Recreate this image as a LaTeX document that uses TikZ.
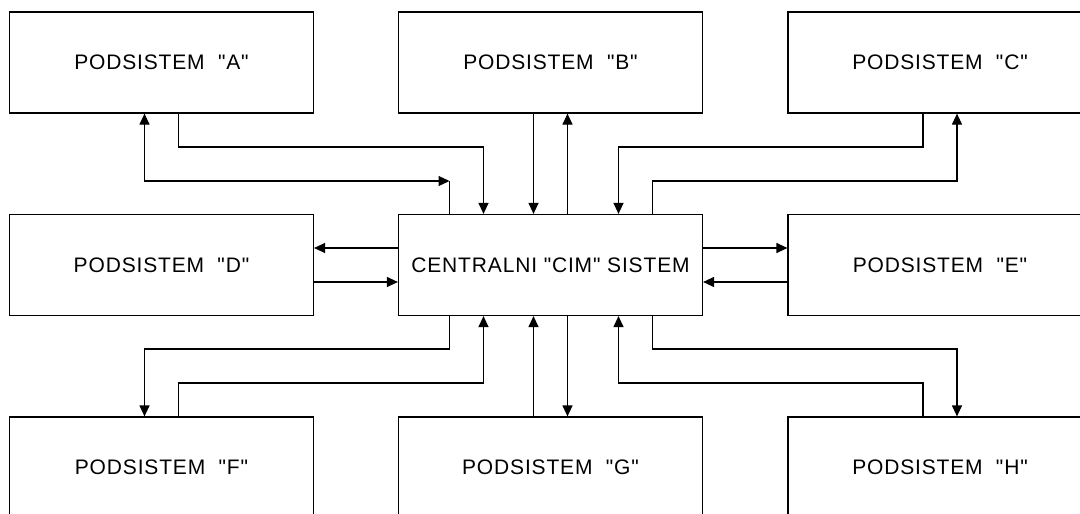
\documentclass[tikz,border=0pt]{standalone}
\usepackage{fontspec}
% plain family: straight quotation marks, slight tracking
\newfontfamily\labelfont{Liberation Sans}[LetterSpace=4]
\usetikzlibrary{arrows.meta}
\begin{document}
\begin{tikzpicture}[x=1pt,y=-1pt,
  box/.style={draw,line width=1.2pt,minimum width=304pt,minimum height=101pt,
    inner sep=0pt,font=\labelfont\fontsize{21pt}{24pt}\selectfont},
  link/.style={line width=1.2pt},
  tip/.tip={Triangle[length=11pt,width=10pt]},
  arr/.style={link,-tip},
  twoway/.style={link,tip-tip}]
\useasboundingbox (0,0) rectangle (1080,514);
\clip (0,0) rectangle (1080,514);
% subsystems around the central system
\node[box] (A) at (161.5,62.5) {PODSISTEM\ \ "A"};
\node[box] (B) at (550.5,62.5) {PODSISTEM\ \ "B"};
\node[box] (C) at (940,62.5) {PODSISTEM\ \ "C"};
\node[box] (D) at (161.5,265) {PODSISTEM\ \ "D"};
\node[box] (cim) at (550.5,265) {CENTRALNI "CIM" SISTEM};
\node[box] (E) at (940,265) {PODSISTEM\ \ "E"};
\node[box] (F) at (161.5,467.5) {PODSISTEM\ \ "F"};
\node[box] (G) at (550.5,467.5) {PODSISTEM\ \ "G"};
\node[box] (H) at (940,467.5) {PODSISTEM\ \ "H"};
% routing levels of the bent connectors
\coordinate (t1) at (0,147);
\coordinate (t2) at (0,181);
\coordinate (b1) at (0,349);
\coordinate (b2) at (0,383);
% top row
\draw[arr] ([xshift=17pt]A.south) -- ([xshift=17pt]A.south |- t1) -| ([xshift=-67pt]cim.north);
\coordinate (pa) at ([xshift=-101pt]cim.north |- t2);
\draw[twoway] ([xshift=-17pt]A.south) |- (pa);
\draw[link] (pa) -- ([xshift=-101pt]cim.north);
\draw[arr] ([xshift=-17pt]B.south) -- ([xshift=-17pt]cim.north);
\draw[arr] ([xshift=17pt]cim.north) -- ([xshift=17pt]B.south);
\draw[arr] ([xshift=-17pt]C.south) -- ([xshift=-17pt]C.south |- t1) -| ([xshift=68pt]cim.north);
\draw[arr] ([xshift=102pt]cim.north) -- ([xshift=102pt]cim.north |- t2) -| ([xshift=17pt]C.south);
% middle row
\draw[arr] ([yshift=17pt]cim.west) -- ([yshift=17pt]cim.west -| D.east);
\draw[arr] ([yshift=-17pt]D.east) -- ([yshift=-17pt]D.east -| cim.west);
\draw[arr] ([yshift=17pt]cim.east) -- ([yshift=17pt]cim.east -| E.west);
\draw[arr] ([yshift=-17pt]E.west) -- ([yshift=-17pt]E.west -| cim.east);
% bottom row
\draw[arr] ([xshift=-101pt]cim.south) -- ([xshift=-101pt]cim.south |- b1) -| ([xshift=-17pt]F.north);
\draw[arr] ([xshift=17pt]F.north) -- ([xshift=17pt]F.north |- b2) -| ([xshift=-67pt]cim.south);
\draw[arr] ([xshift=-17pt]G.north) -- ([xshift=-17pt]cim.south);
\draw[arr] ([xshift=17pt]cim.south) -- ([xshift=17pt]G.north);
\draw[arr] ([xshift=-17pt]H.north) -- ([xshift=-17pt]H.north |- b2) -| ([xshift=68pt]cim.south);
\draw[arr] ([xshift=102pt]cim.south) -- ([xshift=102pt]cim.south |- b1) -| ([xshift=17pt]H.north);
\end{tikzpicture}
\end{document}
